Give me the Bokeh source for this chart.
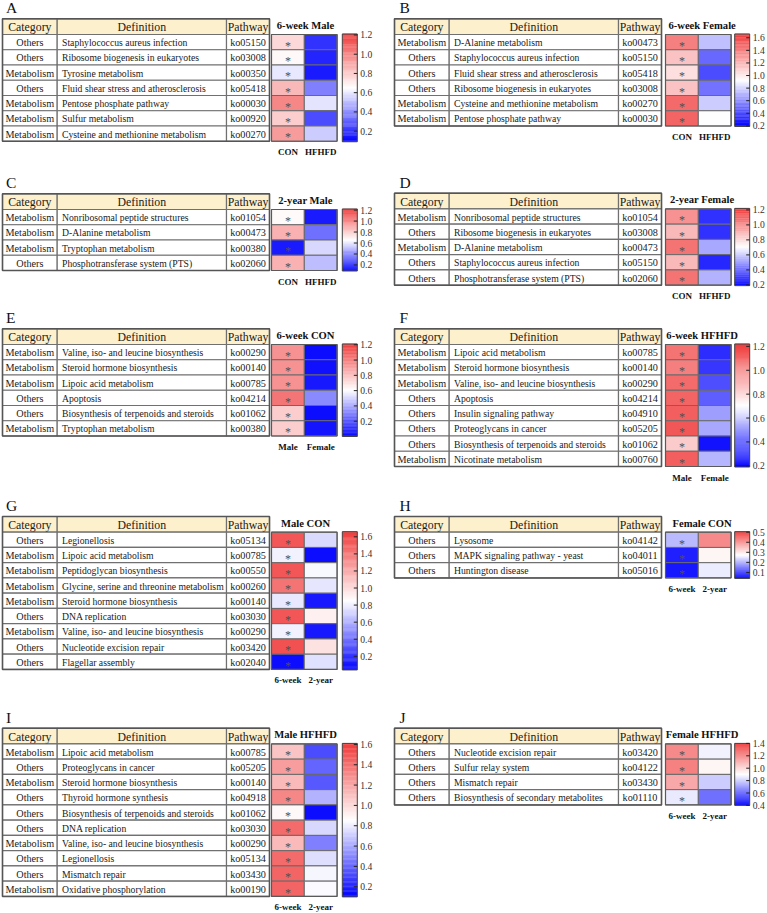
from bokeh.plotting import figure
from bokeh.models import Range1d, ColumnDataSource, LinearColorMapper
from bokeh.core.properties import value
from bokeh.embed import file_html
from bokeh.resources import INLINE

# ---------------- DATA ----------------
# Panel A: 6-week Male
a_category = ["Others", "Others", "Metabolism", "Others", "Metabolism", "Metabolism", "Metabolism"]
a_definition = ["Staphylococcus aureus infection", "Ribosome biogenesis in eukaryotes", "Tyrosine metabolism",
                "Fluid shear stress and atherosclerosis", "Pentose phosphate pathway", "Sulfur metabolism",
                "Cysteine and methionine metabolism"]
a_pathway = ["ko05150", "ko03008", "ko00350", "ko05418", "ko00030", "ko00920", "ko00270"]
a_first = [0.76, 0.67, 0.60, 0.85, 0.99, 0.79, 0.93]
a_second = [0.20, 0.17, 0.15, 0.37, 0.59, 0.26, 0.54]
a_groups = ["CON", "HFHFD"]
a_title = "6-week Male"
a_ticks = [0.2, 0.4, 0.6, 0.8, 1.0, 1.2]
a_range = [0.09, 1.21]

# Panel B: 6-week Female
b_category = ["Metabolism", "Others", "Others", "Others", "Metabolism", "Metabolism"]
b_definition = ["D-Alanine metabolism", "Staphylococcus aureus infection", "Fluid shear stress and atherosclerosis",
                "Ribosome biogenesis in eukaryotes", "Cysteine and methionine metabolism", "Pentose phosphate pathway"]
b_pathway = ["ko00473", "ko05150", "ko05418", "ko03008", "ko00270", "ko00030"]
b_first = [1.40, 1.15, 1.04, 1.15, 1.48, 1.50]
b_second = [0.745, 0.49, 0.41, 0.52, 0.78, 0.93]
b_groups = ["CON", "HFHFD"]
b_title = "6-week Female"
b_ticks = [0.2, 0.4, 0.6, 0.8, 1.0, 1.2, 1.4, 1.6]
b_range = [0.19, 1.66]

# Panel C: 2-year Male
c_category = ["Metabolism", "Metabolism", "Metabolism", "Others"]
c_definition = ["Nonribosomal peptide structures", "D-Alanine metabolism", "Tryptophan metabolism",
                "Phosphotransferase system (PTS)"]
c_pathway = ["ko01054", "ko00473", "ko00380", "ko02060"]
c_first = [0.67, 0.88, 0.15, 0.88]
c_second = [0.15, 0.34, 0.57, 0.51]
c_groups = ["CON", "HFHFD"]
c_title = "2-year Male"
c_ticks = [0.2, 0.4, 0.6, 0.8, 1.0, 1.2]
c_range = [0.09, 1.22]

# Panel D: 2-year Female
d_category = ["Metabolism", "Others", "Metabolism", "Others", "Others"]
d_definition = ["Nonribosomal peptide structures", "Ribosome biogenesis in eukaryotes", "D-Alanine metabolism",
                "Staphylococcus aureus infection", "Phosphotransferase system (PTS)"]
d_pathway = ["ko01054", "ko03008", "ko00473", "ko05150", "ko02060"]
d_first = [0.99, 0.89, 1.07, 0.89, 1.07]
d_second = [0.29, 0.29, 0.53, 0.27, 0.55]
d_groups = ["CON", "HFHFD"]
d_title = "2-year Female"
d_ticks = [0.2, 0.4, 0.6, 0.8, 1.0, 1.2]
d_range = [0.19, 1.22]

# Panel E: 6-week CON
e_category = ["Metabolism", "Metabolism", "Metabolism", "Others", "Others", "Metabolism"]
e_definition = ["Valine, iso- and leucine biosynthesis", "Steroid hormone biosynthesis", "Lipoic acid metabolism",
                "Apoptosis", "Biosynthesis of terpenoids and steroids", "Tryptophan metabolism"]
e_pathway = ["ko00290", "ko00140", "ko00785", "ko04214", "ko01062", "ko00380"]
e_first = [0.94, 0.94, 0.94, 1.03, 0.76, 0.76]
e_second = [0.03, 0.04, 0.06, 0.33, 0.03, 0.05]
e_groups = ["Male", "Female"]
e_title = "6-week CON"
e_ticks = [0.2, 0.4, 0.6, 0.8, 1.0, 1.2]
e_range = [0.0, 1.21]

# Panel F: 6-week HFHFD
f_category = ["Metabolism", "Metabolism", "Metabolism", "Others", "Others", "Others", "Others", "Metabolism"]
f_definition = ["Lipoic acid metabolism", "Steroid hormone biosynthesis", "Valine, iso- and leucine biosynthesis",
                "Apoptosis", "Insulin signaling pathway", "Proteoglycans in cancer",
                "Biosynthesis of terpenoids and steroids", "Nicotinate metabolism"]
f_pathway = ["ko00785", "ko00140", "ko00290", "ko04214", "ko04910", "ko05205", "ko01062", "ko00760"]
f_first = [1.07, 1.04, 1.09, 1.11, 1.12, 1.14, 0.84, 1.12]
f_second = [0.28, 0.30, 0.35, 0.38, 0.51, 0.53, 0.23, 0.56]
f_groups = ["Male", "Female"]
f_title = "6-week HFHFD"
f_ticks = [0.2, 0.4, 0.6, 0.8, 1.0, 1.2]
f_range = [0.19, 1.22]

# Panel G: Male CON
g_category = ["Others", "Metabolism", "Metabolism", "Metabolism", "Metabolism", "Others", "Metabolism",
              "Others", "Others"]
g_definition = ["Legionellosis", "Lipoic acid metabolism", "Peptidoglycan biosynthesis",
                "Glycine, serine and threonine metabolism", "Steroid hormone biosynthesis", "DNA replication",
                "Valine, iso- and leucine biosynthesis", "Nucleotide excision repair", "Flagellar assembly"]
g_pathway = ["ko05134", "ko00785", "ko00550", "ko00260", "ko00140", "ko03030", "ko00290", "ko03420", "ko02040"]
g_first = [1.54, 0.81, 1.54, 1.42, 0.78, 1.54, 0.81, 1.56, 0.08]
g_second = [0.73, 0.08, 0.83, 0.77, 0.12, 0.91, 0.12, 0.97, 0.75]
g_groups = ["6-week", "2-year"]
g_title = "Male CON"
g_ticks = [0.2, 0.4, 0.6, 0.8, 1.0, 1.2, 1.4, 1.6]
g_range = [0.04, 1.66]

# Panel H: Female CON
h_category = ["Others", "Others", "Others"]
h_definition = ["Lysosome", "MAPK signaling pathway - yeast", "Huntington disease"]
h_pathway = ["ko04142", "ko04011", "ko05016"]
h_first = [0.21, 0.07, 0.06]
h_second = [0.41, 0.285, 0.255]
h_groups = ["6-week", "2-year"]
h_title = "Female CON"
h_ticks = [0.1, 0.2, 0.3, 0.4, 0.5]
h_range = [0.04, 0.505]

# Panel I: Male HFHFD
i_category = ["Metabolism", "Others", "Metabolism", "Others", "Others", "Others", "Metabolism", "Others",
              "Others", "Metabolism"]
i_definition = ["Lipoic acid metabolism", "Proteoglycans in cancer", "Steroid hormone biosynthesis",
                "Thyroid hormone synthesis", "Biosynthesis of terpenoids and steroids", "DNA replication",
                "Valine, iso- and leucine biosynthesis", "Legionellosis", "Mismatch repair",
                "Oxidative phosphorylation"]
i_pathway = ["ko00785", "ko05205", "ko00140", "ko04918", "ko01062", "ko03030", "ko00290", "ko05134",
             "ko03430", "ko00190"]
i_first = [1.08, 1.23, 1.12, 1.31, 0.88, 1.42, 1.12, 1.42, 1.44, 1.44]
i_second = [0.33, 0.40, 0.36, 0.63, 0.14, 0.74, 0.48, 0.76, 0.83, 0.84]
i_groups = ["6-week", "2-year"]
i_title = "Male HFHFD"
i_ticks = [0.2, 0.4, 0.6, 0.8, 1.0, 1.2, 1.4, 1.6]
i_range = [0.10, 1.61]

# Panel J: Female HFHFD
j_category = ["Others", "Others", "Others", "Others"]
j_definition = ["Nucleotide excision repair", "Sulfur relay system", "Mismatch repair",
                "Biosynthesis of secondary metabolites"]
j_pathway = ["ko03420", "ko04122", "ko03430", "ko01110"]
j_first = [1.20, 1.22, 1.12, 0.86]
j_second = [0.875, 0.925, 0.80, 0.62]
j_groups = ["6-week", "2-year"]
j_title = "Female HFHFD"
j_ticks = [0.4, 0.6, 0.8, 1.0, 1.2, 1.4]
j_range = [0.40, 1.40]

headers = ["Category", "Definition", "Pathway"]

# ---------------- STYLE / LAYOUT ----------------
W, H = 767, 913
FONT = value("Liberation Serif")
HEAD_FILL = "#fdf0cd"
LINE = "#707070"
OUTER = "#555555"
TXT = "#1a1a1a"
CW = [54.7, 169.3, 43.0]
HH = 15.7
RH = 15.25
CELL = 32.8
BODY_SIZE = value("9.7px")


def make_palette():
    blue, white, red = (0, 0, 255), (255, 255, 255), (240, 58, 58)
    pal = []
    for k in range(256):
        t = k / 255.0
        if t < 0.5:
            a, b, s = blue, white, t / 0.5
        else:
            a, b, s = white, red, (t - 0.5) / 0.5
        c = tuple(int(round(a[i] + (b[i] - a[i]) * s)) for i in range(3))
        pal.append("#%02x%02x%02x" % c)
    return pal


PAL = make_palette()

p = figure(width=W, height=H, x_range=Range1d(0, W), y_range=Range1d(H, 0),
           output_backend="svg", toolbar_location=None, x_axis_type=None, y_axis_type=None,
           min_border=0)
p.outline_line_color = None
p.background_fill_color = "white"
p.border_fill_color = "white"


def draw_panel(letter, tx, hy, side, cats, defs, paths, v1, v2, groups, title, ticks, rng):
    n = len(cats)
    low, high = rng
    mapper = LinearColorMapper(palette=PAL, low=low, high=high)
    edges = [tx, tx + CW[0], tx + CW[0] + CW[1], tx + sum(CW)]
    hb = hy + HH
    tops = [hb + i * RH for i in range(n)]
    bots = [t + RH for t in tops]
    mids = [t + RH / 2 for t in tops]
    tbot = bots[-1]
    heat_off = 269.0 if side == "L" else 271.0
    cb_gap = 5.2 if side == "L" else 3.6
    letter_dx = 3.5 if side == "L" else 5.0
    title_dx = 1.2 if side == "L" else 3.8

    # header
    p.quad(left=edges[:3], right=edges[1:], top=[hy] * 3, bottom=[hb] * 3,
           fill_color=HEAD_FILL, line_color=LINE, line_width=1.2)
    p.text(x=[(edges[k] + edges[k + 1]) / 2 for k in range(3)], y=[hy + HH / 2 + 0.5] * 3, text=headers,
           text_font=FONT, text_font_size=value("11.8px"), text_color=TXT,
           text_align="center", text_baseline="middle")

    # body cells
    L, R, T, B = [], [], [], []
    for i in range(n):
        for k in range(3):
            L.append(edges[k]); R.append(edges[k + 1]); T.append(tops[i]); B.append(bots[i])
    p.quad(left=L, right=R, top=T, bottom=B, fill_color="white", line_color=LINE, line_width=1.2)

    p.text(x=[(edges[0] + edges[1]) / 2] * n, y=[m + 0.5 for m in mids], text=cats, text_font=FONT,
           text_font_size=value("10.2px"), text_color=TXT, text_align="center", text_baseline="middle")
    p.text(x=[edges[1] + 4.8] * n, y=[m + 0.5 for m in mids], text=defs, text_font=FONT,
           text_font_size=BODY_SIZE, text_color=TXT, text_align="left", text_baseline="middle")
    p.text(x=[(edges[2] + edges[3]) / 2] * n, y=[m + 0.5 for m in mids], text=paths, text_font=FONT,
           text_font_size=value("10.2px"), text_color=TXT, text_align="center", text_baseline="middle")

    # outer border of table
    p.quad(left=[edges[0]], right=[edges[3]], top=[hy], bottom=[tbot], fill_color=None,
           line_color=OUTER, line_width=1.5)

    # heatmap
    hx = tx + heat_off
    src = ColumnDataSource(dict(
        left=[hx] * n + [hx + CELL] * n,
        right=[hx + CELL] * n + [hx + 2 * CELL] * n,
        top=tops + tops, bottom=bots + bots,
        v=list(v1) + list(v2)))
    p.quad(left="left", right="right", top="top", bottom="bottom", source=src,
           fill_color={"field": "v", "transform": mapper}, line_color="#6a6a6a", line_width=1.0)
    p.quad(left=[hx], right=[hx + 2 * CELL], top=[hb], bottom=[tbot], fill_color=None,
           line_color="#5a5a5a", line_width=1.2)

    # stars on first column
    p.text(x=[hx + CELL / 2] * n, y=[m + 3.8 for m in mids], text=["*"] * n, text_font=FONT,
           text_font_size=value("12px"), text_color="#505050", text_align="center",
           text_baseline="middle")

    # title and group labels
    p.text(x=[hx + CELL + title_dx], y=[hy + 6.5], text=[title], text_font=FONT,
           text_font_size=value("10.6px"), text_font_style="bold", text_color="#111111",
           text_align="center", text_baseline="middle")
    p.text(x=[hx + CELL / 2, hx + 1.5 * CELL], y=[tbot + 11] * 2, text=groups, text_font=FONT,
           text_font_size=value("9px"), text_font_style="bold", text_color="#111111",
           text_align="center", text_baseline="middle")

    # colour bar
    cx0 = hx + 2 * CELL + cb_gap
    cx1 = cx0 + 15
    ctop = hb - 0.5
    cbot = tbot + 0.5
    N = 120
    hgt = cbot - ctop
    sl_top = [cbot - (k + 1) * hgt / N - 0.3 for k in range(N)]
    sl_bot = [cbot - k * hgt / N for k in range(N)]
    sl_val = [low + (k + 0.5) / N * (high - low) for k in range(N)]
    cb_src = ColumnDataSource(dict(top=sl_top, bottom=sl_bot, v=sl_val))
    p.quad(left=cx0, right=cx1, top="top", bottom="bottom", source=cb_src,
           fill_color={"field": "v", "transform": mapper}, line_color=None)
    p.quad(left=[cx0], right=[cx1], top=[ctop], bottom=[cbot], fill_color=None,
           line_color="#444444", line_width=1.0)
    ty = [cbot - (t - low) / (high - low) * hgt for t in ticks]
    p.segment(x0=[cx1 - 3.5] * len(ticks), x1=[cx1] * len(ticks), y0=ty, y1=ty,
              line_color="#222222", line_width=1.0)
    p.text(x=[cx1 + 3.0] * len(ticks), y=ty, text=["%.1f" % t for t in ticks], text_font=FONT,
           text_font_size=value("9.6px"), text_color="#333333", text_align="left", text_baseline="middle")

    # panel letter (drawn last so nothing covers it)
    p.text(x=[tx + letter_dx], y=[hy - 11.0], text=[letter], text_font=FONT, text_font_size=value("15.5px"),
           text_color="#111111", text_align="left", text_baseline="middle")


LEFT_X, RIGHT_X = 2.0, 394.0
draw_panel("A", LEFT_X, 18.3, "L", a_category, a_definition, a_pathway, a_first, a_second, a_groups, a_title,
           a_ticks, a_range)
draw_panel("B", RIGHT_X, 18.3, "R", b_category, b_definition, b_pathway, b_first, b_second, b_groups, b_title,
           b_ticks, b_range)
draw_panel("C", LEFT_X, 193.3, "L", c_category, c_definition, c_pathway, c_first, c_second, c_groups, c_title,
           c_ticks, c_range)
draw_panel("D", RIGHT_X, 192.7, "R", d_category, d_definition, d_pathway, d_first, d_second, d_groups, d_title,
           d_ticks, d_range)
draw_panel("E", LEFT_X, 328.3, "L", e_category, e_definition, e_pathway, e_first, e_second, e_groups, e_title,
           e_ticks, e_range)
draw_panel("F", RIGHT_X, 328.3, "R", f_category, f_definition, f_pathway, f_first, f_second, f_groups, f_title,
           f_ticks, f_range)
draw_panel("G", LEFT_X, 516.0, "L", g_category, g_definition, g_pathway, g_first, g_second, g_groups, g_title,
           g_ticks, g_range)
draw_panel("H", RIGHT_X, 516.0, "R", h_category, h_definition, h_pathway, h_first, h_second, h_groups, h_title,
           h_ticks, h_range)
draw_panel("I", LEFT_X, 727.7, "L", i_category, i_definition, i_pathway, i_first, i_second, i_groups, i_title,
           i_ticks, i_range)
draw_panel("J", RIGHT_X, 727.7, "R", j_category, j_definition, j_pathway, j_first, j_second, j_groups, j_title,
           j_ticks, j_range)

open("out.html", "w").write(file_html(p, INLINE))
